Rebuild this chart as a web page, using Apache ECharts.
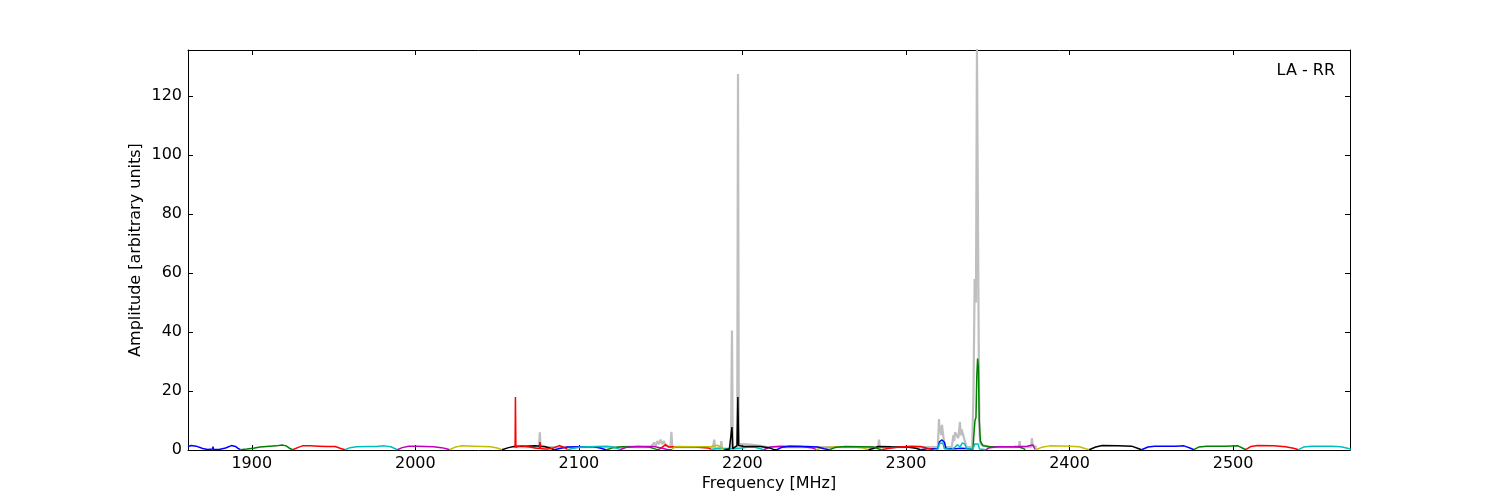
<!DOCTYPE html>
<html>
<head>
<meta charset="utf-8">
<title>LA - RR</title>
<script src="https://cdn.jsdelivr.net/npm/echarts@6/dist/echarts.min.js"></script>
<style>
  html, body { margin: 0; padding: 0; background: #fff; }
  #chart { width: 1500px; height: 500px; }
</style>
</head>
<body>
<div id="chart"></div>
<script>
// tick labels
const xTicks = [1900, 2000, 2100, 2200, 2300, 2400, 2500];
const yTicks = [0, 20, 40, 60, 80, 100, 120];

// gray: full spectrum under the subbands  [MHz, amplitude]
const grayAll = [
  [2060, 1], [2075.6, 1], [2076.1, 6], [2076.6, 1], [2144, 1], [2146, 2.5], [2147, 1.5], [2148, 3],
  [2149, 2], [2150, 3.5], [2151, 2], [2152, 3], [2153, 1.5], [2156, 1], [2156.6, 6.2], [2157.1, 1],
  [2182, 1], [2182.8, 3.5], [2183.3, 0.5], [2186.6, 0.5], [2187.1, 3], [2187.6, 0.5], [2193, 0.5],
  [2193.6, 40.5], [2194.1, 0.5], [2196.8, 0.8], [2197.3, 127.5], [2197.8, 2], [2200, 2], [2205, 1.8],
  [2210, 1.5], [2215, 1], [2260, 1], [2261, 1.6], [2261.5, 1], [2283, 1], [2283.5, 3.5], [2284, 1],
  [2319.5, 1], [2320.2, 10.5], [2320.6, 6], [2321, 8], [2321.5, 5], [2322, 8.5], [2323, 4], [2324, 1],
  [2328, 1], [2329, 5], [2329.5, 3], [2330, 6], [2331, 6.2], [2332, 4], [2333, 9.5], [2333.5, 5],
  [2334, 7], [2335, 6.5], [2336, 3], [2337, 1], [2340.5, 1], [2341.3, 20], [2342, 58], [2342.8, 50],
  [2343.4, 136], [2344.2, 136], [2344.6, 25], [2345, 5], [2345.6, 2], [2350, 1], [2369, 1],
  [2369.5, 3], [2370, 1], [2376.5, 1], [2377, 4], [2377.5, 1.5], [2380, 1]
];

// first run of subbands, 1861 -> 2373 MHz
const fBlue1 = [[1861, 1.2], [1863, 1.5], [1866, 1.3], [1870, 0.5], [1873, 0.2], [1876, 0.3], [1876.3, 1.1], [1876.6, 0.2], [1880, 0.2], [1884, 0.7], [1887.5, 1.5], [1890, 1.2], [1892, 0.4], [1893, 0.2]];
const fGreen1 = [[1893, 0.1], [1897, 0.3], [1901, 0.6], [1905, 1.0], [1911, 1.3], [1915, 1.4], [1918.5, 1.7], [1921, 1.4], [1923, 0.6], [1925, 0.1]];
const fRed1 = [[1925, 0.1], [1928, 0.8], [1931, 1.4], [1936, 1.4], [1941, 1.3], [1946, 1.2], [1951, 1.2], [1954, 0.6], [1957, 0.1]];
const fCyan1 = [[1957, 0.1], [1960, 0.8], [1964, 1.1], [1971, 1.2], [1976, 1.2], [1981, 1.4], [1985, 1.1], [1987, 0.6], [1989, 0.1]];
const fMagenta1 = [[1989, 0.1], [1992, 0.8], [1996, 1.3], [2001, 1.3], [2006, 1.2], [2011, 1.1], [2016, 0.8], [2019, 0.4], [2021, 0.1]];
const fYellow1 = [[2021, 0.1], [2024, 0.9], [2028, 1.4], [2036, 1.3], [2046, 1.1], [2050, 0.7], [2053, 0.1]];
const fBlack1 = [[2053, 0.1], [2057, 0.8], [2061, 1.3], [2067, 1.3], [2073, 1.4], [2079, 1.2], [2083, 0.5], [2085, 0.1]];
const fBlue2 = [[2085, 0.1], [2089, 0.6], [2093, 1.0], [2101, 1.1], [2109, 1.1], [2113, 0.7], [2116, 0.2], [2117, 0.1]];
const fGreen2 = [[2117, 0.1], [2121, 0.8], [2126, 1.1], [2136, 1.2], [2143, 1.0], [2147, 0.3], [2149, 0.1]];
const fRed2 = [[2149, 0.2], [2151, 1.0], [2153, 1.8], [2155, 1.0], [2159, 1.1], [2171, 1.0], [2179, 0.7], [2181, 0.2]];
const fCyan2 = [[2181, 0.2], [2185, 0.6], [2191, 0.3], [2197, 0.5], [2203, 0.9], [2207, 1.0], [2211, 0.4], [2213, 0.1]];
const fMagenta2 = [[2213, 0.1], [2217, 1.0], [2223, 1.3], [2236, 1.2], [2242, 0.8], [2245, 0.2]];
const fYellow2 = [[2245, 0.1], [2249, 0.8], [2256, 1.0], [2266, 1.1], [2273, 0.8], [2277, 0.1]];
const fBlack2 = [[2277, 0.1], [2280, 0.5], [2283, 1.2], [2291, 1.1], [2301, 1.0], [2306, 0.6], [2309, 0.1]];
const fBlue3 = [[2309, 0.1], [2313, 0.4], [2319.5, 0.5], [2320.5, 2.8], [2322, 3.4], [2323.5, 2.6], [2324.5, 0.5], [2330, 0.4], [2334, 0.6], [2338, 0.4], [2341, 0.2]];
const fGreen3 = [[2341, 0.2], [2341.5, 5], [2342.2, 10], [2342.8, 11], [2343.3, 25], [2343.8, 31], [2344.3, 28], [2344.8, 10], [2345.5, 3], [2347, 1.4], [2351, 1.2], [2361, 1.1], [2369, 1.0], [2371, 0.7], [2373, 0.1]];

// second run of subbands, 2061 -> 2572 MHz
const sRed1 = [[2061, 0.8], [2061.2, 18], [2061.5, 1.0], [2065, 1.4], [2070, 1.0], [2074, 0.6], [2076, 0.5], [2076.2, 2.7], [2076.6, 0.5], [2079, 0.3], [2081, 0.3], [2085, 0.8], [2088, 1.5], [2091, 0.9], [2093, 0.2]];
const sCyan1 = [[2093, 0.1], [2097, 0.6], [2101, 1.0], [2111, 1.2], [2117, 1.3], [2121, 1.0], [2125, 0.2]];
const sMagenta1 = [[2125, 0.1], [2129, 0.9], [2136, 1.2], [2146, 1.2], [2151, 0.6], [2154, 0.2], [2157, 0.1]];
const sYellow1 = [[2157, 0.3], [2159, 1.2], [2171, 1.1], [2181, 1.2], [2185, 1.6], [2188, 0.4], [2189, 0.1]];
const sBlack1 = [[2189, 0.1], [2192, 0.3], [2193, 0.4], [2193.6, 7.8], [2194.1, 0.5], [2196.7, 1.5], [2197.2, 18], [2197.7, 1.5], [2201, 1.2], [2211, 1.2], [2216, 0.8], [2219, 0.2], [2221, 0.1]];
const sBlue1 = [[2221, 0.1], [2224, 0.9], [2229, 1.3], [2239, 1.2], [2246, 1.0], [2250, 0.4], [2253, 0.1]];
const sGreen1 = [[2253, 0.1], [2257, 0.9], [2263, 1.2], [2273, 1.1], [2280, 1.0], [2283, 0.4], [2285, 0.1]];
const sRed2 = [[2285, 0.1], [2289, 0.5], [2296, 1.0], [2303, 1.3], [2309, 1.2], [2313, 0.6], [2317, 0.1]];
const sCyan2 = [[2317, 0.1], [2319.5, 0.3], [2320.5, 2.2], [2322.5, 2.4], [2323.5, 0.4], [2328, 0.2], [2330, 1.0], [2331.5, 1.8], [2333, 1.0], [2334.5, 2.4], [2336, 2.0], [2337, 0.4], [2341, 0.3], [2342, 2.0], [2344, 2.0], [2345, 0.3], [2349, 0.1]];
const sMagenta2 = [[2349, 0.1], [2351, 0.8], [2356, 1.1], [2366, 1.2], [2374, 1.3], [2377.5, 1.7], [2379, 0.2]];
const sYellow2 = [[2379, 0.1], [2383, 0.9], [2388, 1.4], [2400, 1.3], [2406, 1.1], [2410, 0.4], [2412, 0.1]];
const sBlack2 = [[2412, 0.1], [2416, 1.0], [2420, 1.5], [2430, 1.4], [2438, 1.3], [2442, 0.5], [2444, 0.1]];
const sBlue2 = [[2444, 0.1], [2448, 1.0], [2452, 1.3], [2465, 1.3], [2470, 1.4], [2474, 0.6], [2476, 0.1]];
const sGreen2 = [[2476, 0.1], [2479, 1.0], [2484, 1.3], [2495, 1.3], [2503, 1.4], [2506, 0.6], [2508, 0.1]];
const sRed3 = [[2508, 0.2], [2511, 1.2], [2515, 1.5], [2525, 1.4], [2532, 1.1], [2537, 0.6], [2540, 0.1]];
const sCyan3 = [[2540, 0.1], [2543, 1.0], [2548, 1.3], [2560, 1.3], [2566, 1.1], [2570, 0.6], [2572, 0.3]];

// matplotlib classic colour cycle
const C = { b: '#0000ff', g: '#008000', r: '#ff0000', c: '#00bfbf', m: '#bf00bf', y: '#bfbf00', k: '#000000' };

const bands = [
  [fBlue1, C.b], [fGreen1, C.g], [fRed1, C.r], [fCyan1, C.c], [fMagenta1, C.m], [fYellow1, C.y], [fBlack1, C.k],
  [fBlue2, C.b], [fGreen2, C.g], [fRed2, C.r], [fCyan2, C.c], [fMagenta2, C.m], [fYellow2, C.y], [fBlack2, C.k],
  [fBlue3, C.b], [fGreen3, C.g],
  [sRed1, C.r], [sCyan1, C.c], [sMagenta1, C.m], [sYellow1, C.y], [sBlack1, C.k], [sBlue1, C.b], [sGreen1, C.g],
  [sRed2, C.r], [sCyan2, C.c], [sMagenta2, C.m], [sYellow2, C.y], [sBlack2, C.k], [sBlue2, C.b], [sGreen2, C.g],
  [sRed3, C.r], [sCyan3, C.c]
];

const font = 'DejaVu Sans';
const xMin = 1861, xMax = 2571.5, yMax = 135.6;

let chart = echarts.init(document.getElementById('chart'));

let series = [{
  type: 'line',
  data: grayAll,
  symbol: 'none',
  lineStyle: { color: '#bfbfbf', width: 2.2 },
  z: 1
}];
bands.forEach(function (b) {
  series.push({
    type: 'line',
    data: b[0],
    symbol: 'none',
    lineStyle: { color: b[1], width: 1.5 },
    z: 2
  });
});

const tickStyle = { inside: true, length: 5, lineStyle: { color: '#000' } };
const plain = function (v) { return String(v); };

chart.setOption({
  animation: false,
  grid: { left: 188, right: 150, top: 50, bottom: 50, show: false },
  xAxis: [{
    type: 'value', min: xMin, max: xMax, position: 'bottom',
    name: 'Frequency [MHz]', nameLocation: 'middle', nameGap: 26, nameMoveOverlap: false,
    nameTextStyle: { color: '#000', fontFamily: font, fontSize: 16 },
    axisLine: { onZero: false, lineStyle: { color: '#000', width: 1 } },
    axisTick: Object.assign({ customValues: xTicks }, tickStyle),
    axisLabel: { customValues: xTicks, formatter: plain, color: '#000', fontFamily: font, fontSize: 16, margin: 6 },
    splitLine: { show: false }
  }, {
    type: 'value', min: xMin, max: xMax, position: 'top',
    axisLine: { onZero: false, lineStyle: { color: '#000', width: 1 } },
    axisTick: Object.assign({ customValues: xTicks }, tickStyle),
    axisLabel: { show: false },
    splitLine: { show: false }
  }],
  yAxis: [{
    type: 'value', min: 0, max: yMax, position: 'left',
    name: 'Amplitude [arbitrary units]', nameLocation: 'middle', nameGap: 44, nameMoveOverlap: false,
    nameTextStyle: { color: '#000', fontFamily: font, fontSize: 16 },
    axisLine: { show: true, onZero: false, lineStyle: { color: '#000', width: 1 } },
    axisTick: Object.assign({ customValues: yTicks }, tickStyle),
    axisLabel: { customValues: yTicks, formatter: plain, color: '#000', fontFamily: font, fontSize: 16, margin: 6 },
    splitLine: { show: false }
  }, {
    type: 'value', min: 0, max: yMax, position: 'right',
    axisLine: { show: true, onZero: false, lineStyle: { color: '#000', width: 1 } },
    axisTick: Object.assign({ customValues: yTicks }, tickStyle),
    axisLabel: { show: false },
    splitLine: { show: false }
  }],
  graphic: [{
    type: 'text', right: 165, top: 63,
    style: { text: 'LA - RR', fill: '#000', font: '16px "DejaVu Sans"' }
  }],
  series: series
});

window.onresize = function () {
  chart.resize();
};
</script>
</body>
</html>
